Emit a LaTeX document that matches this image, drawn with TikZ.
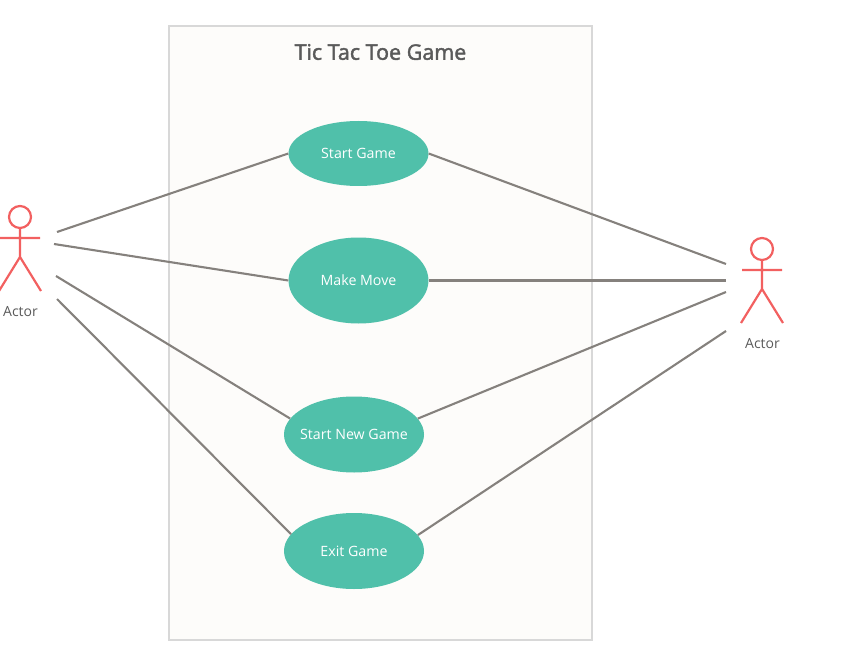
\documentclass[tikz,border=0pt]{standalone}
\usepackage{fontspec}
\setmainfont{Open Sans}
\newcommand{\heavytext}[1]{\special{pdf:code 2 Tr 0.4 w}#1\special{pdf:code 0 Tr}}
\usetikzlibrary{shapes.geometric}
\definecolor{usecase}{RGB}{80, 192, 170}
\definecolor{actorred}{RGB}{242, 96, 96}
\definecolor{linkgray}{RGB}{133, 129, 125}
\definecolor{boxfill}{RGB}{253, 252, 250}
\definecolor{boxline}{RGB}{216, 216, 216}
\definecolor{labelgray}{RGB}{90, 90, 90}
\tikzset{%
    actor/.pic={%
        code{%
            \draw[actorred, line width=2.2pt] (0, 0) circle (11);
            \draw[actorred, line width=2.2pt] (0, 11) -- ++(0, 29)
                (-20, 21) -- ++(40, 0)
                (-21, 74) -- (0, 40) -- (21, 74);
        }
    }
}
\tikzset{%
    case/.style={ellipse, fill=usecase, text=white, inner xsep=-10pt, inner ysep=0pt, minimum width=140,
        font=\fontsize{14.2}{16}\selectfont},
    link/.style={linkgray, line width=2.1pt},
    actorname/.style={text=labelgray, font=\fontsize{14}{16}\selectfont}
}
\begin{document}
\begin{tikzpicture}[x=1pt, y=-1pt]
    \useasboundingbox (0, 0) rectangle (843, 663);

    % System box
    \node[draw=boxline, fill=boxfill, line width=1.9pt, minimum width=423, minimum height=614,
        inner sep=0pt] (system) at (380.5, 333) {};
    \node[text=labelgray, font=\fontsize{21.5}{25}\selectfont] (title) at (380.5, 52) {\heavytext{Tic Tac Toe Game}};

    % Use cases
    \node[case, minimum height=65] (start) at (358.5, 153.5) {Start Game};
    \node[case, minimum height=86] (move) at (358.5, 280.5) {Make Move};
    \node[case, minimum height=76] (newgame) at (354, 434.5) {Start New Game};
    \node[case, minimum height=76] (exit) at (354, 551) {Exit Game};

    % Left actor
    \path (20, 217) pic {actor};
    \node[actorname] (actor1) at (20.5, 311.5) {Actor};
    \coordinate (left1) at (57, 232);
    \coordinate (left2) at (54, 244);
    \coordinate (left3) at (56, 276);
    \coordinate (left4) at (57, 299);

    % Right actor
    \path (762, 249) pic {actor};
    \node[actorname] (actor2) at (762.5, 343.5) {Actor};
    \coordinate (right1) at (726, 264);
    \coordinate (right2) at (726, 280.5);
    \coordinate (right3) at (726, 292);
    \coordinate (right4) at (726, 331);

    % Connecting actors to use cases
    \draw[link] (left1) -- (start.west);
    \draw[link] (left2) -- (move.west);
    \draw[link] (left3) -- (newgame.166);
    \draw[link] (left4) -- (exit.165);

    \draw[link] (start.east) -- (right1);
    \draw[link] (move.east) -- (right2);
    \draw[link] (newgame.14) -- (right3);
    \draw[link] (exit.14) -- (right4);

\end{tikzpicture}
\end{document}
